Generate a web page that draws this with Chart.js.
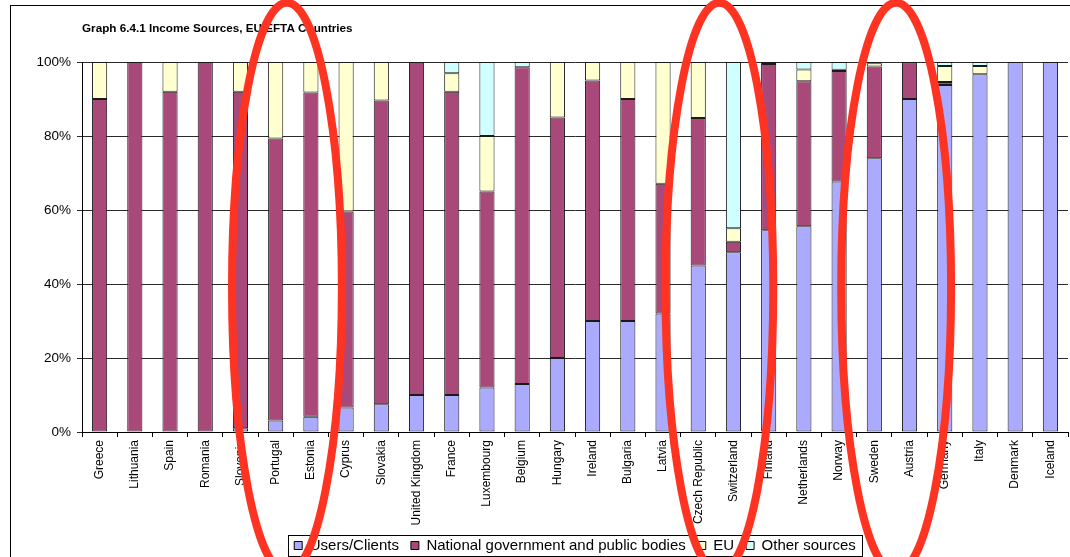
<!DOCTYPE html>
<html>
<head>
<meta charset="utf-8">
<script src="https://cdn.jsdelivr.net/npm/chart.js@4/dist/chart.umd.min.js"></script>
<style>
  html, body { margin: 0; padding: 0; background: #fff; }
  #wrap { width: 1070px; height: 557px; }
</style>
</head>
<body>
<div id="wrap"><canvas id="incomeGraph" width="1070" height="557"></canvas></div>
<script>
"use strict"

// shares of income per country (percent)
const countries = [
    'Greece', 'Lithuania', 'Spain', 'Romania', 'Slovenia', 'Portugal', 'Estonia',
    'Cyprus', 'Slovakia', 'United Kingdom', 'France', 'Luxembourg', 'Belgium',
    'Hungary', 'Ireland', 'Bulgaria', 'Latvia', 'Czech Republic', 'Switzerland',
    'Finland', 'Netherlands', 'Norway', 'Sweden', 'Austria', 'Germany', 'Italy',
    'Denmark', 'Iceland'
]
const usersClients = [0, 0, 0, 0, 1, 3.1, 4.1, 6.6, 7.5, 10, 10, 12, 13, 20, 30, 30, 32, 45, 48.6, 54.5, 55.6, 67.7, 74, 90, 93.8, 96.7, 100, 100]
const nationalGov = [90, 100, 92, 100, 91, 76.2, 87.7, 53, 82.1, 90, 82, 53, 85.6, 65, 65, 60, 35.1, 39.9, 2.8, 45, 39.2, 29.9, 24.8, 10, 0.8, 0, 0, 0]
const euFunds = [10, 0, 8, 0, 8, 20.7, 8.2, 40.4, 10.4, 0, 5, 15, 0, 15, 5, 10, 32.9, 15.1, 3.7, 0.5, 3.2, 0.3, 0.9, 0, 4.3, 2.2, 0, 0]
const otherSources = [0, 0, 0, 0, 0, 0, 0, 0, 0, 0, 3, 20, 1.4, 0, 0, 0, 0, 0, 44.9, 0, 2, 2.1, 0.3, 0, 1.1, 1.1, 0, 0]
const seriesNames = ['Users/Clients', 'National government and public bodies', 'EU', 'Other sources']
const yTicks = [0, 20, 40, 60, 80, 100]

// hand drawn red rings: centre (category index, percent), half width (categories), half height (percent)
const rings = [
    { at: 5.32, mid: 39, halfW: 1.56, halfH: 77 },
    { at: 17.6, mid: 39, halfW: 1.53, halfH: 77 },
    { at: 22.62, mid: 39, halfW: 1.56, halfH: 77 }
]

const FONT = 'Arial, "Liberation Sans", sans-serif'

let outerFrame = {
    id: 'outerFrame',
    beforeDraw(chart) {
        let ctx = chart.ctx
        ctx.save()
        ctx.strokeStyle = '#000'
        ctx.lineWidth = 1
        ctx.strokeRect(10.5, 5.5, 1080, 600)
        ctx.restore()
    }
}

let legendFrame = {
    id: 'legendFrame',
    afterDraw(chart) {
        let boxes = chart.legend.legendHitBoxes
        if (!boxes || !boxes.length) return
        let left = Math.min(...boxes.map(b => b.left)) - 6
        let right = Math.max(...boxes.map(b => b.left + b.width)) + 6
        let top = Math.min(...boxes.map(b => b.top)) - 3
        let bottom = Math.max(...boxes.map(b => b.top + b.height)) + 3
        let ctx = chart.ctx
        ctx.save()
        ctx.strokeStyle = '#000'
        ctx.lineWidth = 1
        ctx.strokeRect(Math.round(left) + 0.5, Math.round(top) + 0.5, Math.round(right - left), Math.round(bottom - top))
        ctx.restore()
    }
}

let redRings = {
    id: 'redRings',
    afterDraw(chart) {
        let x = chart.scales.x
        let y = chart.scales.y
        let ctx = chart.ctx
        ctx.save()
        ctx.strokeStyle = '#ff3322'
        ctx.lineWidth = 8
        rings.forEach(r => {
            let cx = x.getPixelForValue(r.at)
            let rx = x.getPixelForValue(r.at + r.halfW) - cx
            let cy = y.getPixelForValue(r.mid)
            let ry = cy - y.getPixelForValue(r.mid + r.halfH)
            ctx.beginPath()
            ctx.ellipse(cx, cy, rx, ry, 0, 0, Math.PI * 2)
            ctx.stroke()
        })
        ctx.restore()
    }
}

let makeSet = function(label, data, color) {
    return {
        label,
        data,
        backgroundColor: color,
        borderColor: '#1a1a1a',
        borderWidth: 1,
        borderSkipped: false,
        categoryPercentage: 1,
        barPercentage: 0.43
    }
}

let ctx = document.getElementById('incomeGraph').getContext('2d')
let incomeChart = new Chart(ctx, {
    type: 'bar',
    data: {
        labels: countries,
        datasets: [
            makeSet(seriesNames[0], usersClients, '#aaaaff'),
            makeSet(seriesNames[1], nationalGov, '#a8497a'),
            makeSet(seriesNames[2], euFunds, '#ffffd0'),
            makeSet(seriesNames[3], otherSources, '#d0ffff')
        ]
    },
    options: {
        responsive: false,
        animation: false,
        layout: { padding: { top: 22, right: 2, left: 0, bottom: -6 } },
        plugins: {
            title: {
                display: true,
                text: 'Graph 6.4.1 Income Sources, EU/EFTA Countries',
                align: 'start',
                fullSize: false,
                color: '#000',
                font: { family: FONT, size: 11.7, weight: 'bold' },
                padding: { top: 0, bottom: 26 }
            },
            legend: {
                position: 'bottom',
                fullSize: false,
                labels: {
                    color: '#000',
                    font: { family: FONT, size: 15 },
                    boxWidth: 8,
                    boxHeight: 8,
                    padding: 12,
                    generateLabels(chart) {
                        return chart.data.datasets.map((d, i) => ({
                            text: d.label,
                            fillStyle: d.backgroundColor,
                            strokeStyle: '#000',
                            lineWidth: 1,
                            datasetIndex: i,
                            fontColor: '#000'
                        }))
                    }
                }
            },
            tooltip: { enabled: false }
        },
        scales: {
            x: {
                stacked: true,
                afterFit(scale) { scale.height = 94 },
                border: { color: '#000' },
                grid: {
                    display: true,
                    offset: true,
                    drawOnChartArea: false,
                    drawTicks: true,
                    tickLength: 5,
                    color: '#000'
                },
                ticks: {
                    minRotation: 90,
                    maxRotation: 90,
                    autoSkip: false,
                    color: '#000',
                    padding: 3,
                    font: { family: FONT, size: 12 }
                }
            },
            y: {
                stacked: true,
                min: 0,
                max: 100,
                afterFit(scale) { scale.width = 82 },
                afterBuildTicks(scale) { scale.ticks = yTicks.map(v => ({ value: v })) },
                border: { color: '#000' },
                grid: {
                    color: '#2a2a2a',
                    tickLength: 5,
                    drawTicks: true
                },
                ticks: {
                    color: '#000',
                    padding: 6,
                    font: { family: FONT, size: 13.5 },
                    callback: v => v + '%'
                }
            }
        }
    },
    plugins: [outerFrame, legendFrame, redRings]
})
</script>
</body>
</html>
